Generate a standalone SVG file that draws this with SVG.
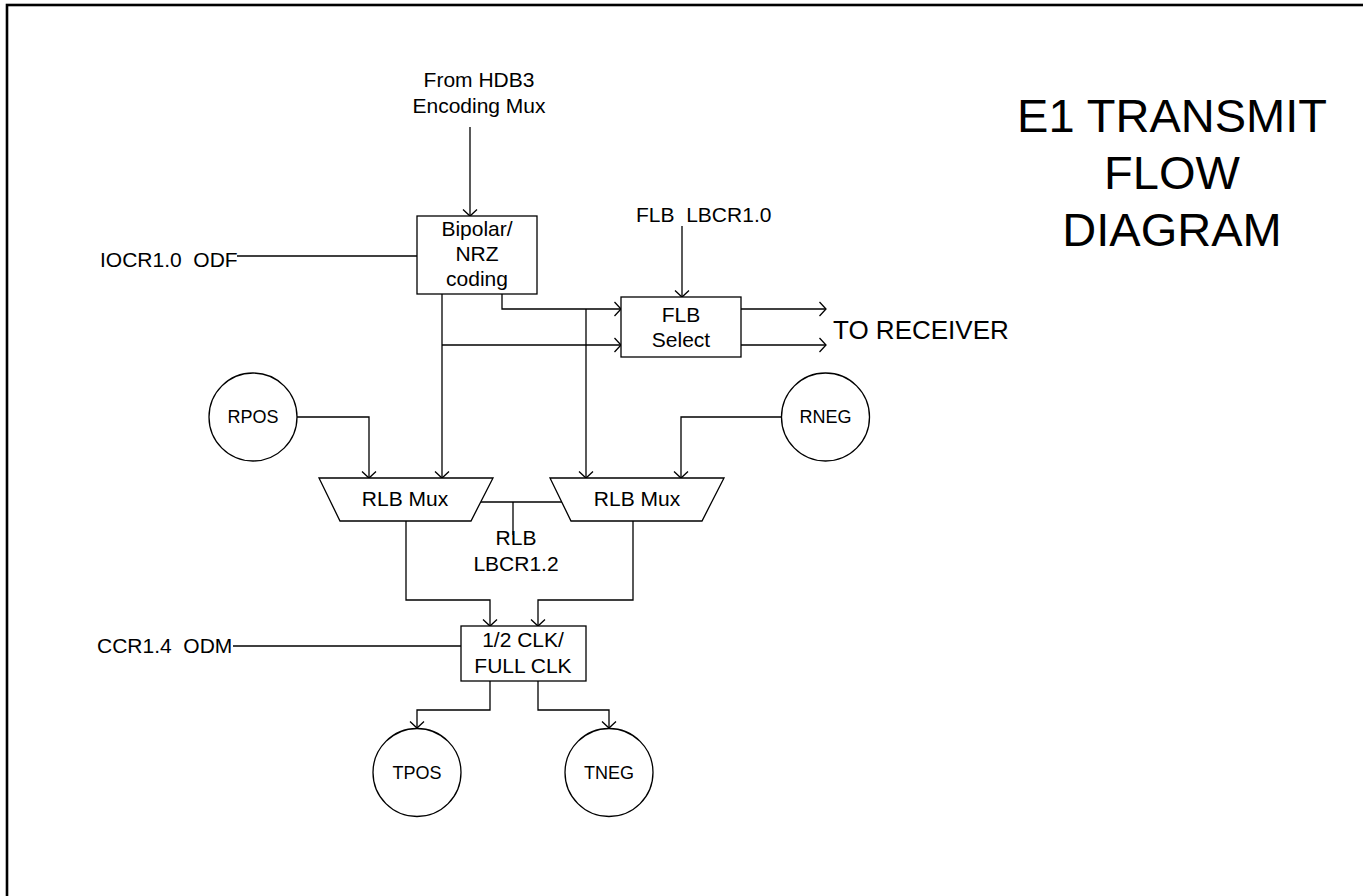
<svg xmlns="http://www.w3.org/2000/svg" width="1363" height="896" viewBox="0 0 1363 896">
<style>
text{font-family:"Liberation Sans",Arial,sans-serif;fill:#000;white-space:pre}
.t{font-size:21px;text-anchor:middle}
.l{font-size:21px}
.c{font-size:18px;text-anchor:middle}
.shape{fill:#fff;stroke:#000;stroke-width:1.3}
.conn path{fill:none;stroke:#000;stroke-width:1.3}
.arr{marker-end:url(#ah)}
</style>
<defs>
<marker id="ah" markerUnits="userSpaceOnUse" markerWidth="20" markerHeight="20" refX="0" refY="0" viewBox="-10 -10 20 20" orient="auto" overflow="visible">
<path d="M-6.5,-7 L0,0 L-6.5,7" fill="none" stroke="#000" stroke-width="1.3"/>
</marker>
</defs>
<rect x="7" y="5" width="1420" height="960" fill="#fff" stroke="#000" stroke-width="2.6"/>

<g id="title">
<text x="1172" y="132" style="font-size:47px;text-anchor:middle">E1 TRANSMIT</text>
<text x="1172" y="189" style="font-size:47px;text-anchor:middle">FLOW</text>
<text x="1172" y="246" style="font-size:47px;text-anchor:middle">DIAGRAM</text>
</g>

<g class="conn" id="connectors">
<path class="arr" d="M470,127 V216"/>
<path d="M237,256 H417"/>
<path class="arr" d="M502,294 V309 H621"/>
<path class="arr" d="M442,294 V478"/>
<path class="arr" d="M442,345 H621"/>
<path class="arr" d="M586,309 V478"/>
<path class="arr" d="M682,226 V297"/>
<path class="arr" d="M741,309 H826"/>
<path class="arr" d="M741,345 H826"/>
<path class="arr" d="M297,417 H369 V478"/>
<path class="arr" d="M781.5,417 H681 V478"/>
<path d="M481,502 H563"/>
<path d="M513,502 V535"/>
<path class="arr" d="M406,521 V600 H490 V626"/>
<path class="arr" d="M633,521 V600 H538 V626"/>
<path d="M233,646 H461"/>
<path class="arr" d="M490,681 V710 H417 V728"/>
<path class="arr" d="M538,681 V710 H609 V728"/>
</g>

<g id="lbl-hdb3">
<text class="t" x="479" y="87">From HDB3</text>
<text class="t" x="479" y="113">Encoding Mux</text>
</g>
<g id="lbl-iocr"><text class="l" x="100" y="267" xml:space="preserve">IOCR1.0  ODF</text></g>
<g id="lbl-flb"><text class="l" x="636" y="222" xml:space="preserve">FLB  LBCR1.0</text></g>
<g id="lbl-recv"><text x="833" y="339" style="font-size:26px">TO RECEIVER</text></g>
<g id="lbl-rlb">
<text class="t" x="516" y="545">RLB</text>
<text class="t" x="516" y="571">LBCR1.2</text>
</g>
<g id="lbl-ccr"><text class="l" x="97" y="653" xml:space="preserve">CCR1.4  ODM</text></g>

<g id="bipolar">
<rect class="shape" x="417" y="216" width="120" height="78"/>
<text class="t" x="477" y="236">Bipolar/</text>
<text class="t" x="477" y="261">NRZ</text>
<text class="t" x="477" y="286">coding</text>
</g>

<g id="flbselect">
<rect class="shape" x="621" y="297" width="120" height="60"/>
<text class="t" x="681" y="322">FLB</text>
<text class="t" x="681" y="347">Select</text>
</g>

<g id="rpos">
<circle class="shape" cx="253" cy="417" r="44"/>
<text class="c" x="253" y="423">RPOS</text>
</g>

<g id="rneg">
<circle class="shape" cx="825.5" cy="417" r="44"/>
<text class="c" x="825.5" y="423">RNEG</text>
</g>

<g id="rlbmux1">
<path class="shape" d="M319,478 H493 L471,521 H340 Z"/>
<text class="t" x="405" y="506">RLB Mux</text>
</g>

<g id="rlbmux2">
<path class="shape" d="M550,478 H724 L702,521 H571 Z"/>
<text class="t" x="637" y="506">RLB Mux</text>
</g>

<g id="clk">
<rect class="shape" x="461" y="626" width="125" height="55"/>
<text class="t" x="523" y="647">1/2 CLK/</text>
<text class="t" x="523" y="673">FULL CLK</text>
</g>

<g id="tpos">
<circle class="shape" cx="417" cy="772.5" r="44"/>
<text class="c" x="417" y="778.5">TPOS</text>
</g>

<g id="tneg">
<circle class="shape" cx="609" cy="772.5" r="44"/>
<text class="c" x="609" y="778.5">TNEG</text>
</g>
</svg>
